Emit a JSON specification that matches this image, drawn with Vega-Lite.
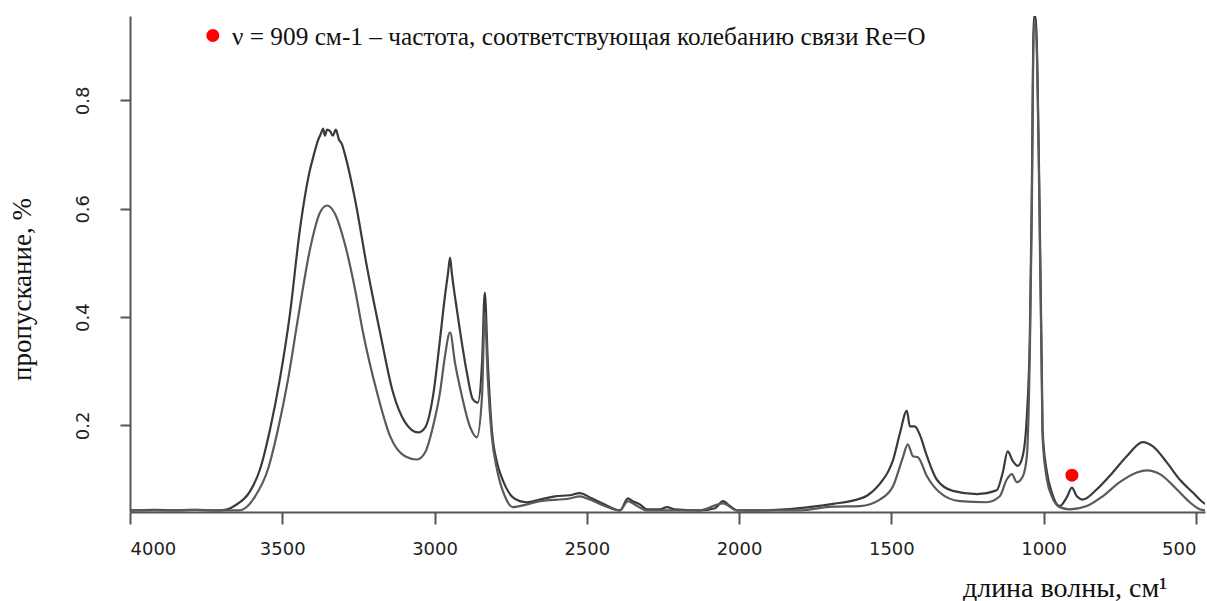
{
  "$schema": "https://vega.github.io/schema/vega-lite/v6.json",
  "width": 1075,
  "height": 496,
  "autosize": {"type": "none"},
  "padding": {"left": 130, "top": 16, "right": 2, "bottom": 89},
  "background": "white",
  "config": {"view": {"stroke": null}},
  "datasets": {
    "spectra": [
      {"s":"A","w":4000,"v":0.043},{"s":"A","w":3920,"v":0.044},{"s":"A","w":3850,"v":0.043},{"s":"A","w":3780,"v":0.044},{"s":"A","w":3720,"v":0.043},{"s":"A","w":3688,"v":0.044},{"s":"A","w":3655,"v":0.052},{"s":"A","w":3606,"v":0.078},{"s":"A","w":3573,"v":0.119},{"s":"A","w":3540,"v":0.193},{"s":"A","w":3508,"v":0.285},{"s":"A","w":3475,"v":0.405},{"s":"A","w":3442,"v":0.562},{"s":"A","w":3409,"v":0.672},{"s":"A","w":3399,"v":0.694},{"s":"A","w":3383,"v":0.726},{"s":"A","w":3373,"v":0.739},{"s":"A","w":3366,"v":0.748},{"s":"A","w":3360,"v":0.735},{"s":"A","w":3353,"v":0.746},{"s":"A","w":3343,"v":0.743},{"s":"A","w":3334,"v":0.735},{"s":"A","w":3324,"v":0.746},{"s":"A","w":3314,"v":0.728},{"s":"A","w":3304,"v":0.719},{"s":"A","w":3294,"v":0.700},{"s":"A","w":3278,"v":0.663},{"s":"A","w":3261,"v":0.617},{"s":"A","w":3222,"v":0.493},{"s":"A","w":3179,"v":0.372},{"s":"A","w":3137,"v":0.262},{"s":"A","w":3097,"v":0.206},{"s":"A","w":3054,"v":0.187},{"s":"A","w":3031,"v":0.196},{"s":"A","w":3005,"v":0.254},{"s":"A","w":2982,"v":0.359},{"s":"A","w":2966,"v":0.438},{"s":"A","w":2956,"v":0.480},{"s":"A","w":2949,"v":0.510},{"s":"A","w":2943,"v":0.480},{"s":"A","w":2933,"v":0.438},{"s":"A","w":2917,"v":0.377},{"s":"A","w":2894,"v":0.298},{"s":"A","w":2874,"v":0.248},{"s":"A","w":2858,"v":0.242},{"s":"A","w":2844,"v":0.316},{"s":"A","w":2835,"v":0.445},{"s":"A","w":2825,"v":0.316},{"s":"A","w":2812,"v":0.193},{"s":"A","w":2795,"v":0.132},{"s":"A","w":2780,"v":0.105},{"s":"A","w":2765,"v":0.085},{"s":"A","w":2745,"v":0.068},{"s":"A","w":2720,"v":0.060},{"s":"A","w":2697,"v":0.058},{"s":"A","w":2654,"v":0.063},{"s":"A","w":2605,"v":0.069},{"s":"A","w":2556,"v":0.071},{"s":"A","w":2523,"v":0.075},{"s":"A","w":2490,"v":0.067},{"s":"A","w":2441,"v":0.054},{"s":"A","w":2391,"v":0.043},{"s":"A","w":2365,"v":0.065},{"s":"A","w":2349,"v":0.060},{"s":"A","w":2326,"v":0.054},{"s":"A","w":2303,"v":0.045},{"s":"A","w":2260,"v":0.045},{"s":"A","w":2237,"v":0.049},{"s":"A","w":2211,"v":0.045},{"s":"A","w":2129,"v":0.043},{"s":"A","w":2079,"v":0.047},{"s":"A","w":2053,"v":0.060},{"s":"A","w":2030,"v":0.051},{"s":"A","w":2007,"v":0.043},{"s":"A","w":1932,"v":0.043},{"s":"A","w":1800,"v":0.047},{"s":"A","w":1692,"v":0.055},{"s":"A","w":1620,"v":0.062},{"s":"A","w":1580,"v":0.070},{"s":"A","w":1538,"v":0.092},{"s":"A","w":1510,"v":0.115},{"s":"A","w":1495,"v":0.135},{"s":"A","w":1472,"v":0.185},{"s":"A","w":1449,"v":0.227},{"s":"A","w":1439,"v":0.198},{"s":"A","w":1423,"v":0.198},{"s":"A","w":1406,"v":0.182},{"s":"A","w":1383,"v":0.143},{"s":"A","w":1351,"v":0.100},{"s":"A","w":1298,"v":0.079},{"s":"A","w":1219,"v":0.073},{"s":"A","w":1154,"v":0.080},{"s":"A","w":1134,"v":0.113},{"s":"A","w":1118,"v":0.152},{"s":"A","w":1101,"v":0.134},{"s":"A","w":1085,"v":0.125},{"s":"A","w":1068,"v":0.145},{"s":"A","w":1055,"v":0.217},{"s":"A","w":1045,"v":0.372},{"s":"A","w":1039,"v":0.617},{"s":"A","w":1032,"v":0.955},{"s":"A","w":1026,"v":0.955},{"s":"A","w":1016,"v":0.709},{"s":"A","w":1012,"v":0.556},{"s":"A","w":1006,"v":0.309},{"s":"A","w":1003,"v":0.187},{"s":"A","w":989,"v":0.113},{"s":"A","w":973,"v":0.076},{"s":"A","w":947,"v":0.051},{"s":"A","w":924,"v":0.067},{"s":"A","w":907,"v":0.085},{"s":"A","w":891,"v":0.069},{"s":"A","w":871,"v":0.063},{"s":"A","w":825,"v":0.082},{"s":"A","w":773,"v":0.113},{"s":"A","w":727,"v":0.143},{"s":"A","w":674,"v":0.169},{"s":"A","w":641,"v":0.161},{"s":"A","w":596,"v":0.132},{"s":"A","w":553,"v":0.100},{"s":"A","w":510,"v":0.076},{"s":"A","w":477,"v":0.058},{"s":"A","w":470,"v":0.055},
      {"s":"B","w":4000,"v":0.043},{"s":"B","w":3900,"v":0.043},{"s":"B","w":3800,"v":0.044},{"s":"B","w":3700,"v":0.043},{"s":"B","w":3639,"v":0.043},{"s":"B","w":3622,"v":0.047},{"s":"B","w":3589,"v":0.069},{"s":"B","w":3547,"v":0.119},{"s":"B","w":3514,"v":0.193},{"s":"B","w":3481,"v":0.285},{"s":"B","w":3448,"v":0.399},{"s":"B","w":3409,"v":0.525},{"s":"B","w":3376,"v":0.593},{"s":"B","w":3353,"v":0.606},{"s":"B","w":3327,"v":0.591},{"s":"B","w":3294,"v":0.534},{"s":"B","w":3261,"v":0.451},{"s":"B","w":3235,"v":0.372},{"s":"B","w":3189,"v":0.261},{"s":"B","w":3146,"v":0.180},{"s":"B","w":3097,"v":0.143},{"s":"B","w":3058,"v":0.137},{"s":"B","w":3031,"v":0.150},{"s":"B","w":3005,"v":0.198},{"s":"B","w":2982,"v":0.261},{"s":"B","w":2966,"v":0.327},{"s":"B","w":2949,"v":0.372},{"s":"B","w":2933,"v":0.316},{"s":"B","w":2910,"v":0.254},{"s":"B","w":2884,"v":0.198},{"s":"B","w":2861,"v":0.178},{"s":"B","w":2844,"v":0.254},{"s":"B","w":2835,"v":0.408},{"s":"B","w":2825,"v":0.285},{"s":"B","w":2812,"v":0.180},{"s":"B","w":2795,"v":0.119},{"s":"B","w":2769,"v":0.069},{"s":"B","w":2743,"v":0.049},{"s":"B","w":2697,"v":0.054},{"s":"B","w":2654,"v":0.060},{"s":"B","w":2556,"v":0.065},{"s":"B","w":2523,"v":0.069},{"s":"B","w":2490,"v":0.063},{"s":"B","w":2441,"v":0.051},{"s":"B","w":2391,"v":0.043},{"s":"B","w":2365,"v":0.060},{"s":"B","w":2343,"v":0.054},{"s":"B","w":2303,"v":0.043},{"s":"B","w":2129,"v":0.043},{"s":"B","w":2053,"v":0.056},{"s":"B","w":2007,"v":0.043},{"s":"B","w":1800,"v":0.043},{"s":"B","w":1692,"v":0.050},{"s":"B","w":1603,"v":0.051},{"s":"B","w":1538,"v":0.063},{"s":"B","w":1495,"v":0.087},{"s":"B","w":1462,"v":0.141},{"s":"B","w":1446,"v":0.165},{"s":"B","w":1429,"v":0.143},{"s":"B","w":1413,"v":0.141},{"s":"B","w":1383,"v":0.106},{"s":"B","w":1341,"v":0.076},{"s":"B","w":1275,"v":0.060},{"s":"B","w":1187,"v":0.058},{"s":"B","w":1144,"v":0.069},{"s":"B","w":1121,"v":0.100},{"s":"B","w":1104,"v":0.110},{"s":"B","w":1088,"v":0.095},{"s":"B","w":1068,"v":0.106},{"s":"B","w":1055,"v":0.143},{"s":"B","w":1045,"v":0.340},{"s":"B","w":1039,"v":0.580},{"s":"B","w":1032,"v":0.940},{"s":"B","w":1026,"v":0.940},{"s":"B","w":1016,"v":0.691},{"s":"B","w":1012,"v":0.525},{"s":"B","w":1006,"v":0.285},{"s":"B","w":1003,"v":0.174},{"s":"B","w":989,"v":0.100},{"s":"B","w":973,"v":0.069},{"s":"B","w":947,"v":0.049},{"s":"B","w":914,"v":0.045},{"s":"B","w":858,"v":0.051},{"s":"B","w":806,"v":0.069},{"s":"B","w":750,"v":0.095},{"s":"B","w":694,"v":0.113},{"s":"B","w":661,"v":0.117},{"s":"B","w":618,"v":0.110},{"s":"B","w":563,"v":0.082},{"s":"B","w":520,"v":0.058},{"s":"B","w":487,"v":0.045},{"s":"B","w":470,"v":0.043}
    ],
    "dots": [
      {"w": 3728, "v": 0.920},
      {"w": 907, "v": 0.108}
    ],
    "notes": [
      {"w": 3665, "v": 0.918, "label": "ν = 909 см-1 – частота, соответствующая колебанию связи Re=O"}
    ]
  },
  "encoding": {
    "x": {
      "field": "w",
      "type": "quantitative",
      "scale": {"domain": [470, 4000], "reverse": true, "nice": false, "zero": false},
      "axis": {
        "values": [4000, 3500, 3000, 2500, 2000, 1500, 1000, 500],
        "format": "d",
        "grid": false,
        "domainColor": "#555555",
        "domainWidth": 2,
        "tickColor": "#555555",
        "tickWidth": 2,
        "tickSize": 12,
        "labelFont": "DejaVu Sans",
        "labelFontSize": 18,
        "labelColor": "#222222",
        "labelPadding": 16,
        "labelFlush": 10,
        "title": "длина волны, см¹",
        "titleFont": "Liberation Serif",
        "titleFontSize": 28,
        "titleFontWeight": "normal",
        "titleColor": "#111111",
        "titleX": 1037,
        "titleY": 84,
        "titleAlign": "right",
        "titleBaseline": "alphabetic"
      }
    },
    "y": {
      "field": "v",
      "type": "quantitative",
      "scale": {"domain": [0.04, 0.956], "nice": false, "zero": false},
      "axis": {
        "values": [0.2, 0.4, 0.6, 0.8],
        "format": ".1f",
        "grid": false,
        "domainColor": "#555555",
        "domainWidth": 2,
        "tickColor": "#555555",
        "tickWidth": 2,
        "tickSize": 10,
        "labelFont": "DejaVu Sans",
        "labelFontSize": 18,
        "labelColor": "#222222",
        "labelAngle": 270,
        "labelAlign": "center",
        "labelBaseline": "alphabetic",
        "labelPadding": 32,
        "title": "пропускание, %",
        "titleFont": "Liberation Serif",
        "titleFontSize": 27,
        "titleFontWeight": "normal",
        "titleColor": "#111111",
        "titleAngle": 270,
        "titleX": -100,
        "titleY": 273,
        "titleAlign": "center",
        "titleBaseline": "alphabetic"
      }
    }
  },
  "layer": [
    {
      "data": {"name": "spectra"},
      "mark": {"type": "line", "strokeWidth": 2.2, "clip": true, "interpolate": "monotone"},
      "encoding": {
        "color": {
          "field": "s",
          "type": "nominal",
          "scale": {"domain": ["A", "B"], "range": ["#3a3a3a", "#5a5a5a"]},
          "legend": null
        }
      }
    },
    {
      "data": {"name": "dots"},
      "mark": {"type": "circle", "color": "#ff0000", "size": 170, "opacity": 1}
    },
    {
      "data": {"name": "notes"},
      "mark": {"type": "text", "align": "left", "baseline": "middle", "font": "Liberation Serif", "fontSize": 25.3, "color": "#111111"},
      "encoding": {"text": {"field": "label"}}
    }
  ]
}
